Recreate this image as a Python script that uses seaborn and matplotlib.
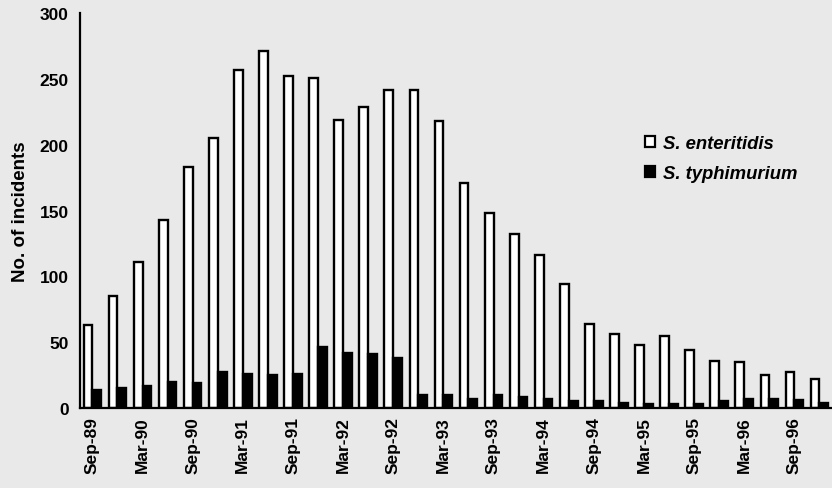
import matplotlib
matplotlib.use("Agg")
import matplotlib.pyplot as plt
import seaborn as sns
import pandas as pd

# quarterly incidents, Sep-89 .. Dec-96
quarters = ["Sep-89", "Dec-89", "Mar-90", "Jun-90", "Sep-90", "Dec-90",
            "Mar-91", "Jun-91", "Sep-91", "Dec-91", "Mar-92", "Jun-92",
            "Sep-92", "Dec-92", "Mar-93", "Jun-93", "Sep-93", "Dec-93",
            "Mar-94", "Jun-94", "Sep-94", "Dec-94", "Mar-95", "Jun-95",
            "Sep-95", "Dec-95", "Mar-96", "Jun-96", "Sep-96", "Dec-96"]
enteritidis = [63, 85, 111, 143, 183, 205, 257, 271, 252, 251, 219, 229,
               242, 242, 218, 171, 148, 132, 116, 94, 64, 56, 48, 55,
               44, 36, 35, 25, 27, 22]
typhimurium = [14, 15, 17, 20, 19, 27, 26, 25, 26, 46, 42, 41,
               38, 10, 10, 7, 10, 8, 7, 5, 5, 4, 3, 3,
               3, 5, 7, 7, 6, 4]
series = ["S. enteritidis", "S. typhimurium"]
yticks = [0, 50, 100, 150, 200, 250, 300]

df = pd.DataFrame({
    "quarter": quarters * 2,
    "count": enteritidis + typhimurium,
    "series": [series[0]] * len(quarters) + [series[1]] * len(quarters),
})

sns.set_style("white")
plt.rcParams["font.family"] = ["Liberation Sans", "DejaVu Sans"]
plt.rcParams["text.color"] = "black"
bg = "#e9e9e9"

fig = plt.figure(figsize=(8.32, 4.89), dpi=100, facecolor=bg)
ax = fig.add_axes([0.096, 0.1636, 0.904, 0.8074])
ax.set_facecolor(bg)

sns.barplot(data=df, x="quarter", y="count", hue="series", hue_order=series,
            order=quarters, palette=["white", "black"], width=0.7,
            edgecolor="black", linewidth=1.7, saturation=1, ax=ax)

ax.set_xlim(-0.5, 29.38)
ax.set_ylim(0, 300)
ax.set_yticks(yticks)
ax.tick_params(axis="y", direction="out", length=4, width=1.2, pad=4,
               labelsize=12.5, colors="black")
ax.set_xticks(range(0, len(quarters), 2))
ax.set_xticklabels(quarters[::2], rotation=90, fontsize=12.5, fontweight="bold")
ax.set_xticks([i - 0.5 for i in range(len(quarters) + 1)], minor=True)
ax.tick_params(axis="x", which="major", length=0, pad=6, colors="black")
ax.tick_params(axis="x", which="minor", direction="inout", length=8, width=1.2)
for lab in ax.get_yticklabels():
    lab.set_fontweight("bold")

for s in ["top", "right"]:
    ax.spines[s].set_visible(False)
for s in ["left", "bottom"]:
    ax.spines[s].set_linewidth(1.6)
    ax.spines[s].set_color("black")

ax.set_xlabel("")
ax.set_ylabel("No. of incidents", fontsize=13.5, fontweight="bold",
              color="black", labelpad=8)

handles, labels = ax.get_legend_handles_labels()
for h in handles:
    h.set_edgecolor("black")
    h.set_linewidth(1.6)
ax.legend(handles, labels, loc="upper left",
          bbox_to_anchor=(645 / 832, 1 - 136 / 489),
          bbox_transform=fig.transFigure, frameon=False, borderpad=0,
          borderaxespad=0, handlelength=0.55, handleheight=0.55,
          handletextpad=0.4, labelspacing=0.7, labelcolor="black",
          prop={"size": 13.3, "style": "italic", "weight": "bold"})

fig.savefig("out.png", dpi=100, facecolor=bg)
